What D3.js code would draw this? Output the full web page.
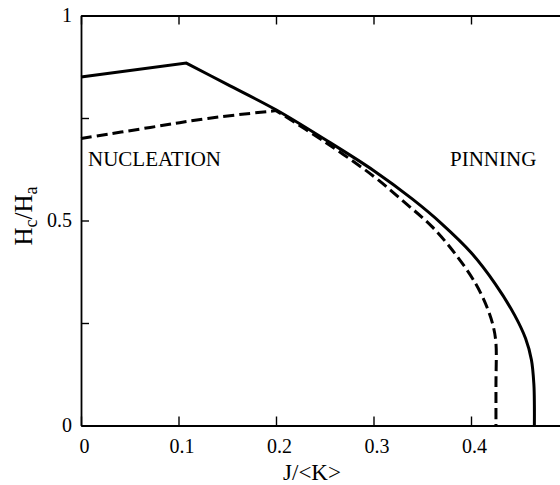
<!DOCTYPE html>
<html>
<head>
<meta charset="utf-8">
<script src="https://cdn.jsdelivr.net/npm/d3@7"></script>
<style>
  html, body { margin: 0; padding: 0; background: #fff; }
  svg { display: block; }
  text { font-family: "Liberation Serif", "Times New Roman", serif; fill: #000; }
</style>
</head>
<body>
<svg id="chart" width="560" height="485"></svg>
<script>
// ---- data ----
const xTicks = [0, 0.1, 0.2, 0.3, 0.4];
const yTicks = [0, 0.25, 0.5, 0.75, 1];
const yTickLabels = { 0: "0", 0.5: "0.5", 1: "1" };

// solid curve: rising branch (nucleation) and falling branch (pinning)
const solidRiseX = [0, 0.108];
const solidRiseY = [0.85, 0.884];
const solidFallX = [0.108, 0.15, 0.2, 0.25, 0.3, 0.34, 0.37, 0.4, 0.425, 0.445, 0.456, 0.462, 0.4645, 0.465, 0.465];
const solidFallY = [0.884, 0.832, 0.770, 0.698, 0.622, 0.552, 0.492, 0.422, 0.345, 0.268, 0.212, 0.160, 0.10, 0.05, 0];

// dashed curve
const dashedRiseX = [0, 0.071, 0.130, 0.200];
const dashedRiseY = [0.70, 0.727, 0.749, 0.768];
const dashedFallX = [0.200, 0.25, 0.3, 0.334, 0.36, 0.385, 0.405, 0.417, 0.423, 0.4256, 0.4256, 0.4256];
const dashedFallY = [0.768, 0.692, 0.608, 0.540, 0.485, 0.415, 0.345, 0.285, 0.240, 0.200, 0.10, 0];

const regionLabels = ["NUCLEATION", "PINNING"];

// ---- chart ----
const svg = d3.select("#chart");
const x = d3.scaleLinear().domain([0, 0.5]).range([81, 568.5]);
const y = d3.scaleLinear().domain([0, 1]).range([425.5, 15.5]);

const axisStyle = g => {
  g.select(".domain").attr("stroke", "#000").attr("stroke-width", 1.8);
  g.selectAll(".tick line").attr("stroke", "#000").attr("stroke-width", 1.4);
  g.selectAll(".tick text").style("font-family", '"Liberation Serif", "Times New Roman", serif')
    .style("font-size", "20px").attr("fill", "#000");
};

// bottom axis
svg.append("g")
  .attr("transform", `translate(0,${y(0)})`)
  .call(d3.axisBottom(x).tickValues(xTicks).tickSize(-9).tickSizeOuter(0).tickPadding(13)
    .tickFormat(d3.format("")))
  .call(axisStyle)
  .call(g => g.selectAll(".tick text").attr("dx", 3));

// top axis
svg.append("g")
  .attr("transform", `translate(0,${y(1)})`)
  .call(d3.axisTop(x).tickValues(xTicks).tickSize(-9).tickSizeOuter(0).tickFormat(""))
  .call(axisStyle);

// left axis
svg.append("g")
  .attr("transform", `translate(${x(0)},0)`)
  .call(d3.axisLeft(y).tickValues(yTicks).tickSize(-8).tickSizeOuter(0).tickPadding(9)
    .tickFormat(d => yTickLabels[d] || ""))
  .call(axisStyle);

// curves
const zip = (a, b) => a.map((v, i) => [v, b[i]]);
const linLine = d3.line().x(d => x(d[0])).y(d => y(d[1]));
const smoothLine = d3.line().x(d => x(d[0])).y(d => y(d[1])).curve(d3.curveCatmullRom.alpha(0.5));
const joinPaths = (d1, d2) => d1 + d2.replace(/^M[-0-9.,\s]*/, "");

const solidD = joinPaths(linLine(zip(solidRiseX, solidRiseY)), smoothLine(zip(solidFallX, solidFallY)));
const dashedD = joinPaths(smoothLine(zip(dashedRiseX, dashedRiseY)), smoothLine(zip(dashedFallX, dashedFallY)));

svg.append("path").attr("d", dashedD).attr("fill", "none").attr("stroke", "#000")
  .attr("stroke-width", 3).attr("stroke-dasharray", "11,5");

svg.append("path").attr("d", solidD).attr("fill", "none").attr("stroke", "#000")
  .attr("stroke-width", 3).attr("stroke-linejoin", "miter");

// region labels
svg.append("text").attr("x", 88).attr("y", 166).style("font-size", "21px").text(regionLabels[0]);
svg.append("text").attr("x", 450).attr("y", 166).style("font-size", "21px").text(regionLabels[1]);

// axis titles
svg.append("text").attr("x", 312).attr("y", 480).attr("text-anchor", "middle")
  .style("font-size", "23px").text("J/<K>");

const yt = svg.append("text")
  .attr("transform", "translate(32,216) rotate(-90)")
  .attr("text-anchor", "middle")
  .style("font-size", "25px");
yt.append("tspan").text("H");
yt.append("tspan").attr("dy", 5).style("font-size", "18px").text("c");
yt.append("tspan").attr("dy", -5).text("/H");
yt.append("tspan").attr("dy", 5).style("font-size", "18px").text("a");
</script>
</body>
</html>
